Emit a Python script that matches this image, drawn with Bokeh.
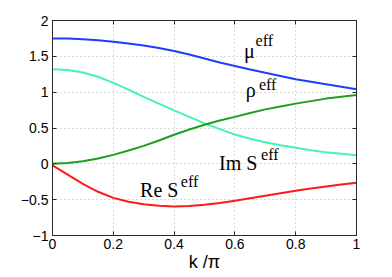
from bokeh.plotting import figure
from bokeh.models import Range1d, FixedTicker, LinearAxis, Label
from bokeh.embed import file_html
from bokeh.resources import INLINE

k = [0.0, 0.05, 0.1, 0.15, 0.2, 0.25, 0.3, 0.35, 0.4, 0.45, 0.5,
     0.55, 0.6, 0.65, 0.7, 0.75, 0.8, 0.85, 0.9, 0.95, 1.0]
mu_eff = [1.75, 1.748, 1.74, 1.725, 1.705, 1.68, 1.65, 1.615, 1.575, 1.525, 1.47,
          1.415, 1.365, 1.315, 1.27, 1.225, 1.18, 1.145, 1.11, 1.075, 1.04]
im_s_eff = [1.32, 1.31, 1.275, 1.215, 1.13, 1.035, 0.935, 0.84, 0.745, 0.655, 0.565,
            0.485, 0.41, 0.35, 0.30, 0.26, 0.225, 0.19, 0.16, 0.14, 0.12]
rho_eff = [0.0, 0.01, 0.035, 0.075, 0.125, 0.185, 0.25, 0.325, 0.405, 0.48, 0.545,
           0.605, 0.655, 0.71, 0.76, 0.80, 0.84, 0.875, 0.91, 0.935, 0.96]
re_s_eff = [-0.02, -0.15, -0.28, -0.39, -0.475, -0.53, -0.565, -0.585, -0.595, -0.59, -0.57,
            -0.545, -0.515, -0.48, -0.445, -0.41, -0.375, -0.345, -0.315, -0.29, -0.265]

x_ticks = [0, 0.2, 0.4, 0.6, 0.8, 1]
x_tick_labels = ["0", "0.2", "0.4", "0.6", "0.8", "1"]
y_ticks = [-1, -0.5, 0, 0.5, 1, 1.5, 2]
y_tick_labels = ["\u22121", "\u22120.5", "0", "0.5", "1", "1.5", "2"]

p = figure(width=392, height=277, output_backend="svg", toolbar_location=None,
           x_range=Range1d(0, 1), y_range=Range1d(-1, 2),
           min_border_left=52, min_border_right=36, min_border_top=20, min_border_bottom=42)
p.background_fill_color = "white"
p.border_fill_color = "white"
p.outline_line_color = "#222222"
p.outline_line_width = 1

axis_color = "#2b2b2b"
for ax in (p.xaxis[0], p.yaxis[0]):
    ax.axis_line_color = axis_color
    ax.major_tick_line_color = axis_color
    ax.major_tick_in = 4
    ax.major_tick_out = 0
    ax.minor_tick_line_color = None
    ax.major_label_text_font = "Liberation Sans"
    ax.major_label_text_font_size = "14px"
    ax.major_label_text_color = "black"
    ax.major_label_standoff = 4

p.xaxis[0].ticker = FixedTicker(ticks=x_ticks)
p.xaxis[0].major_label_overrides = dict(zip(x_ticks, x_tick_labels))
p.xaxis[0].major_label_standoff = 3
p.xaxis[0].axis_label = "k /\u03c0"
p.xaxis[0].axis_label_text_font = "Liberation Sans"
p.xaxis[0].axis_label_text_font_size = "18px"
p.xaxis[0].axis_label_text_font_style = "normal"
p.xaxis[0].axis_label_text_color = "black"
p.xaxis[0].axis_label_standoff = 0
p.yaxis[0].ticker = FixedTicker(ticks=y_ticks)
p.yaxis[0].major_label_overrides = dict(zip(y_ticks, y_tick_labels))

top = LinearAxis(ticker=FixedTicker(ticks=x_ticks))
right = LinearAxis(ticker=FixedTicker(ticks=y_ticks))
for ax in (top, right):
    ax.axis_line_color = axis_color
    ax.major_tick_line_color = axis_color
    ax.major_tick_in = 4
    ax.major_tick_out = 0
    ax.minor_tick_line_color = None
    ax.major_label_text_font_size = "8px"
    ax.major_label_text_color = None
    ax.major_label_standoff = 0
p.add_layout(top, "above")
p.add_layout(right, "right")

p.xgrid.ticker = FixedTicker(ticks=x_ticks)
p.ygrid.ticker = FixedTicker(ticks=y_ticks)
for g in (p.xgrid, p.ygrid):
    g.grid_line_color = "#b5b5b5"
    g.grid_line_dash = "1 3"
    g.grid_line_width = 1

p.line(k, mu_eff, line_color="#1f3cff", line_width=2)
p.line(k, im_s_eff, line_color="#44f2b6", line_width=2)
p.line(k, rho_eff, line_color="#1e9e1e", line_width=2)
p.line(k, re_s_eff, line_color="#ff1a1a", line_width=2)

serif = "Liberation Serif"
labels = [
    ("\u03bc", 0.63, 1.58, "eff", 0.668, 1.715),
    ("\u03c1", 0.636, 1.03, "eff", 0.679, 1.11),
    ("Im S", 0.548, 0.006, "eff", 0.686, 0.13),
    ("Re S", 0.288, -0.367, "eff", 0.422, -0.24),
]
for main, mx, my, sup, sx, sy in labels:
    p.add_layout(Label(x=mx, y=my, text=main, text_font=serif, text_font_size="20px",
                       text_color="black", text_align="left", text_baseline="alphabetic"))
    p.add_layout(Label(x=sx, y=sy, text=sup, text_font=serif, text_font_size="16px",
                       text_color="black", text_align="left", text_baseline="alphabetic"))

open("out.html", "w").write(file_html(p, INLINE))
